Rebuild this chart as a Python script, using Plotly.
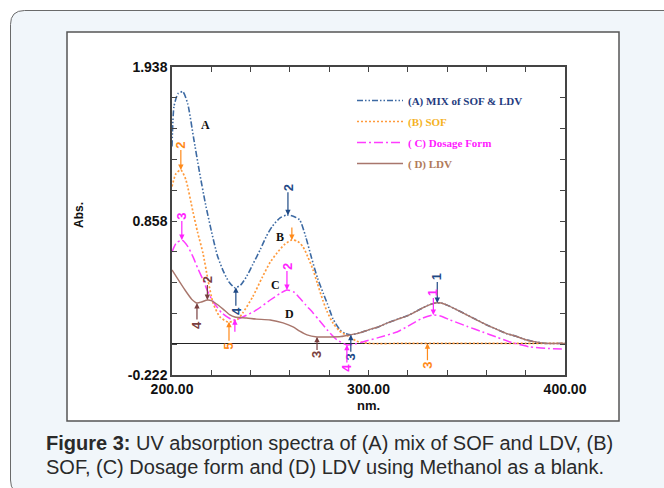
import numpy as np
import plotly.graph_objects as go

# ---------------- data ----------------
wl_A = [200, 201, 203, 205.5, 208, 211, 214, 217, 220, 223, 226, 229, 232, 235, 238, 241, 245, 248, 251, 255,
        258.5, 262, 265, 268, 271, 274, 277, 279, 282, 285.5, 288, 291, 296, 300, 305, 310, 315, 320, 325, 330,
        334, 337, 340, 345, 350, 355, 360, 365, 370, 375, 380, 385, 390, 400]
abs_A = [1.38, 1.66, 1.75, 1.765, 1.68, 1.44, 1.20, 0.98, 0.79, 0.62, 0.51, 0.43, 0.39, 0.41, 0.47, 0.55, 0.66,
         0.75, 0.82, 0.88, 0.90, 0.89, 0.865, 0.75, 0.60, 0.46, 0.35, 0.28, 0.17, 0.095, 0.07, 0.06, 0.075, 0.095,
         0.115, 0.145, 0.17, 0.195, 0.23, 0.265, 0.283, 0.283, 0.268, 0.235, 0.20, 0.165, 0.13, 0.10, 0.07, 0.05,
         0.025, 0.01, 0.0, 0.0]

wl_B = [200, 202, 204.5, 207, 210.7, 213, 215.8, 218.3, 220.9, 224.4, 228.5, 233, 236, 241, 246, 250, 253.5,
        257, 261, 264, 266.7, 269, 271.8, 274, 276.8, 279, 282, 285, 287, 290.5, 294, 300, 320, 340, 360, 380, 400]
abs_B = [1.10, 1.19, 1.216, 1.15, 0.92, 0.78, 0.63, 0.445, 0.283, 0.185, 0.150, 0.164, 0.213, 0.325, 0.465, 0.57,
         0.635, 0.69, 0.725, 0.715, 0.676, 0.61, 0.515, 0.42, 0.30, 0.22, 0.14, 0.09, 0.07, 0.045, 0.015, 0.0, 0.0,
         0.0, 0.0, 0.0, 0.0]

wl_C = [200, 202, 205, 208, 210.7, 213, 215.8, 218, 220.4, 225.4, 231, 236, 243, 250, 255, 258.5, 262, 265, 268,
        271.8, 275, 279, 284, 289, 293, 297, 305, 314.5, 320, 327.7, 333, 337, 341.5, 350, 358, 365, 372, 378, 382,
        390, 400]
abs_C = [0.64, 0.70, 0.725, 0.68, 0.606, 0.53, 0.445, 0.37, 0.304, 0.213, 0.164, 0.185, 0.234, 0.304, 0.35, 0.374,
         0.36, 0.318, 0.27, 0.213, 0.16, 0.094, 0.024, -0.011, -0.005, 0.010, 0.04, 0.080, 0.12, 0.178, 0.199, 0.19,
         0.164, 0.12, 0.08, 0.045, 0.010, -0.012, -0.025, -0.035, -0.04]

wl_D = [200, 203, 206.6, 210, 212.7, 215, 218, 220, 222, 226, 229.5, 232, 238, 243, 250, 256.5, 261.6, 265, 268.7,
        273.8, 280.4, 286, 290.6, 296, 300, 305, 310, 315, 320, 325, 330, 334, 337, 340, 345, 350, 355, 360, 365,
        370, 375, 380, 385, 390, 400]
abs_D = [0.515, 0.45, 0.374, 0.31, 0.283, 0.29, 0.304, 0.30, 0.283, 0.24, 0.199, 0.185, 0.178, 0.17, 0.164, 0.143,
         0.115, 0.085, 0.059, 0.045, 0.045, 0.048, 0.059, 0.075, 0.095, 0.115, 0.145, 0.17, 0.195, 0.23, 0.265,
         0.283, 0.283, 0.268, 0.235, 0.20, 0.165, 0.13, 0.10, 0.07, 0.05, 0.025, 0.01, 0.0, 0.0]

series_names = ["(A) MIX of SOF &amp; LDV", "(B) SOF", "( C) Dosage Form", "( D) LDV"]
x_tick_vals = list(range(200, 401, 20))
x_tick_labels = {200: "200.00", 300: "300.00", 400: "400.00"}
y_min, y_max = -0.222, 1.938
y_tick_labels = {0: "-0.222", 5: "0.858", 10: "1.938"}

# peak / valley markers: (series, wavelength, label, pixel offset of label)
markers = [
    ("A", 259.0, "2", -28), ("A", 232.5, "4", 24), ("A", 291.0, "3", 22), ("A", 335.0, "1", -26),
    ("B", 204.5, "2", -25), ("B", 261.0, " ", -16), ("B", 229.0, "5", 24), ("B", 330.0, "3", 22),
    ("C", 205.0, "3", -24), ("C", 258.5, "2", -24), ("C", 232.0, " ", 16), ("C", 289.0, "4", 23),
    ("C", 333.0, "1", -22),
    ("D", 212.7, "4", 22), ("D", 218.0, "2", -20), ("D", 273.8, "3", 18),
]
curve_letters = [("A", 216.8, 1.531), ("B", 255.0, 0.746), ("C", 252.9, 0.409), ("D", 260.0, 0.206)]
caption_lines = ["<b>Figure 3:</b> UV absorption spectra of (A) mix of SOF and LDV, (B)",
                 "SOF, (C) Dosage form and (D) LDV using Methanol as a blank."]

# ---------------- styling ----------------
data = {"A": (wl_A, abs_A), "B": (wl_B, abs_B), "C": (wl_C, abs_C), "D": (wl_D, abs_D)}
line_col = {"A": "#3d6aa3", "B": "#ff9a3c", "C": "#ff3cff", "D": "#a8766c"}
text_col = {"A": "#1f3c80", "B": "#f5b21f", "C": "#ff1aff", "D": "#b07a5a"}
mark_col = {"A": "#1f4a86", "B": "#ff8a1a", "C": "#ff22ff", "D": "#7a4040"}
dashes = {"A": "6px,2px,1.5px,2px,1.5px,2px", "B": "2px,2px", "C": "9px,3px,2px,3px", "D": "solid"}
widths = {"A": 1.6, "B": 1.7, "C": 1.5, "D": 1.4}

W, H = 664, 488
L, R, T, B = 172, 565, 67, 375


def px2x(px):
    return (px - L) / (R - L)


def py2y(py):
    return (B - py) / (B - T)


fig = go.Figure()
for key, nm in zip(["A", "B", "C", "D"], series_names):
    xs, ys = data[key]
    fig.add_trace(go.Scatter(
        x=xs, y=ys, mode="lines", legendgroup=key,
        name=f"<b><span style='color:{text_col[key]}'>{nm}</span></b>",
        line=dict(color=line_col[key], width=widths[key], dash=dashes[key], shape="spline", smoothing=0.6),
        hoverinfo="skip"))

annotations = []
for key, wl, lab, off in markers:
    xs, ys = data[key]
    yv = float(np.interp(wl, xs, ys))
    annotations.append(dict(
        x=wl, y=yv, xref="x", yref="y", text=f"<b>{lab}</b>", textangle=-90, showarrow=True,
        ax=0, ay=off, arrowhead=2, arrowsize=0.9, arrowwidth=1.2, arrowcolor=mark_col[key],
        standoff=0, font=dict(family="Arial", size=13, color=mark_col[key])))

for lab, xv, yv in curve_letters:
    annotations.append(dict(x=xv, y=yv, xref="x", yref="y", text=f"<b>{lab}</b>", showarrow=False,
                            font=dict(family="Liberation Serif", size=12, color="#111")))

annotations += [
    dict(x=px2x(79), y=py2y(215), xref="paper", yref="paper", xanchor="center", yanchor="middle",
         text="<b>Abs.</b>", textangle=-90,
         showarrow=False, font=dict(family="Arial", size=12, color="#111")),
    dict(x=px2x(368), y=py2y(405), xref="paper", yref="paper", xanchor="center", yanchor="middle",
         text="<b>nm.</b>", showarrow=False, font=dict(family="Arial", size=13, color="#111")),
]
for i, line in enumerate(caption_lines):
    annotations.append(dict(x=px2x(44), y=py2y(443 + 24 * i), xref="paper", yref="paper", xanchor="left",
                            yanchor="middle", align="left", showarrow=False, text=line,
                            font=dict(family="Arial", size=20, color="#2a2a2a")))

# card background and inner white frame
x0, y0, x1, y1, r = px2x(10.5), py2y(10.5), px2x(680), py2y(494), 14
rx, ry = r / (R - L), r / (B - T)
card_path = (f"M {x0},{y0 - ry} Q {x0},{y0} {x0 + rx},{y0} L {x1},{y0} L {x1},{y1} "
             f"L {x0 + rx},{y1} Q {x0},{y1} {x0},{y1 + ry} Z")
shapes = [
    dict(type="path", path=card_path, xref="paper", yref="paper", fillcolor="#f1f6fa",
         line=dict(color="#6a6a6a", width=1), layer="below"),
    dict(type="rect", xref="paper", yref="paper", x0=px2x(67), y0=py2y(32), x1=px2x(619), y1=py2y(421),
         fillcolor="white", line=dict(color="#555", width=1.5), layer="below"),
]

y_tick_vals = [y_min + (y_max - y_min) * i / 10 for i in range(11)]
fig.update_layout(
    width=W, height=H, margin=dict(l=L, r=W - R, t=T, b=H - B),
    paper_bgcolor="white", plot_bgcolor="rgba(0,0,0,0)",
    showlegend=True,
    legend=dict(x=px2x(352), y=py2y(86), xanchor="left", yanchor="top", bgcolor="rgba(0,0,0,0)",
                font=dict(family="Liberation Serif", size=11), tracegroupgap=2, itemwidth=46),
    xaxis=dict(range=[200, 400], showline=True, linecolor="#444", linewidth=1.5, mirror="ticks",
               ticks="inside", ticklen=5, tickcolor="#444", tickwidth=1.2, tickvals=x_tick_vals,
               ticktext=[x_tick_labels.get(v, "") for v in x_tick_vals], showgrid=False, zeroline=False,
               tickfont=dict(family="Arial", size=14, color="#111", weight="bold")),
    yaxis=dict(range=[y_min, y_max], showline=True, linecolor="#444", linewidth=1.5, mirror="ticks",
               ticks="inside", ticklen=5, tickcolor="#444", tickwidth=1.2, tickvals=y_tick_vals,
               ticktext=[y_tick_labels.get(i, "") for i in range(11)], showgrid=False,
               zeroline=True, zerolinecolor="#222", zerolinewidth=1.2,
               tickfont=dict(family="Arial", size=14, color="#111", weight="bold")),
    annotations=annotations, shapes=shapes,
)

fig.write_html("out.html")
